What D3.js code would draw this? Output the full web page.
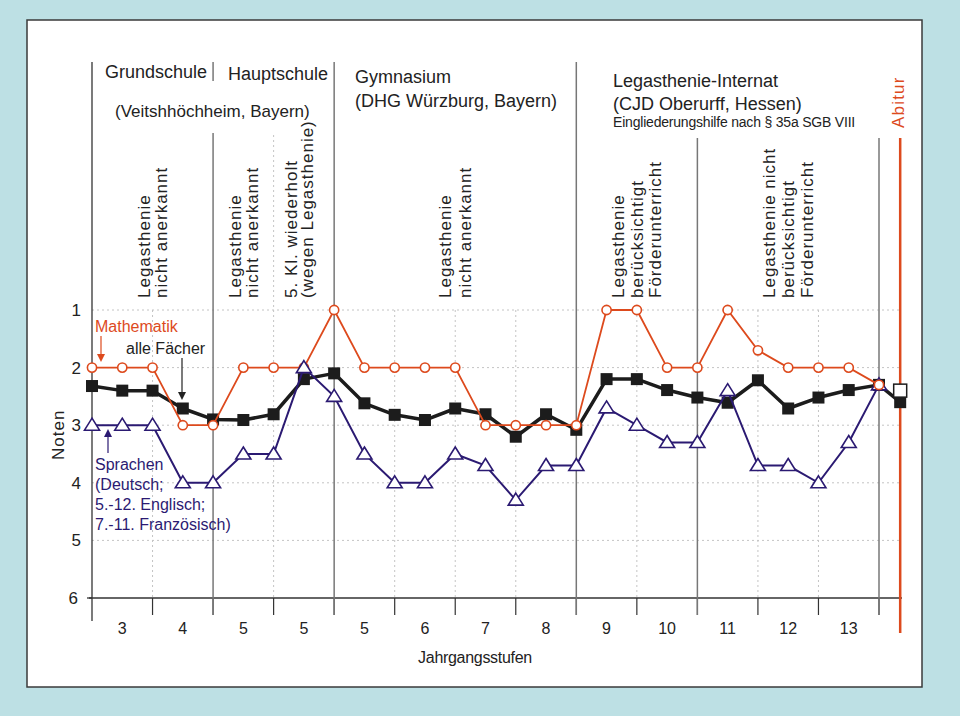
<!DOCTYPE html>
<html lang="de">
<head>
<meta charset="UTF-8">
<title>Noten</title>
<style>
  body { margin: 0; background: #bde0e4; }
  svg { display: block; font-family: "Liberation Sans", Arial, sans-serif; }
</style>
</head>
<body>
<script src="https://d3js.org/d3.v7.min.js"></script>
<script>
// Jahrgangsstufen (Beschriftung in der Mitte jeder Spalte)
var stufen = ["3", "4", "5", "5", "5", "6", "7", "8", "9", "10", "11", "12", "13"];
var notenTicks = [1, 2, 3, 4, 5, 6];

// Noten je Halbjahr (27 Zeugnisse)
var mathe    = [2, 2, 2, 3, 3, 2, 2, 2, 1, 2, 2, 2, 2, 3, 3, 3, 3, 1, 1, 2, 2, 1, 1.7, 2, 2, 2, 2.3];
var alle     = [2.32, 2.4, 2.4, 2.71, 2.9, 2.91, 2.81, 2.2, 2.1, 2.62, 2.82, 2.91, 2.71, 2.81, 3.2, 2.81, 3.08,
                2.2, 2.2, 2.39, 2.52, 2.61, 2.22, 2.71, 2.52, 2.39, 2.3];
var sprachen = [3, 3, 3, 4, 4, 3.5, 3.5, 2, 2.5, 3.5, 4, 4, 3.5, 3.7, 4.3, 3.7, 3.7, 2.7, 3, 3.3, 3.3, 2.4,
                3.7, 3.7, 4, 3.3, 2.3];

// Abitur
var abiturPos = 26.7;
var abiturAlle = 2.6;
var abiturNote = 2.4;

// Schulwechsel (Halbjahresindex)
var wechsel = [4, 8, 16, 20, 26];

var orange = "#dd4a1d", lila = "#2b1a72", schwarz = "#1c1c1c", grau = "#777";

var svg = d3.select("body").append("svg").attr("width", 960).attr("height", 716);

svg.append("rect").attr("x", 0).attr("y", 0).attr("width", 960).attr("height", 716).attr("fill", "#bde0e4");
svg.append("rect").attr("x", 27).attr("y", 20).attr("width", 895).attr("height", 667)
  .attr("fill", "#fff").attr("stroke", "#3a3a3a").attr("stroke-width", 1.5);

var x = d3.scaleLinear().domain([0, 26]).range([92, 879]);
var y = d3.scaleLinear().domain([1, 6]).range([310, 598]);

// Gitter
svg.selectAll(".hgrid").data([1, 2, 3, 4, 5]).enter().append("line")
  .attr("x1", x(0)).attr("x2", x(abiturPos))
  .attr("y1", function(d){ return y(d); }).attr("y2", function(d){ return y(d); })
  .attr("stroke", "#c4c4c4").attr("stroke-dasharray", "2,3");

var tickIdx = d3.range(0, 27, 2);
svg.selectAll(".vgrid").data(tickIdx.filter(function(d){ return d > 0 && wechsel.indexOf(d) < 0; }))
  .enter().append("line")
  .attr("x1", function(d){ return x(d); }).attr("x2", function(d){ return x(d); })
  .attr("y1", function(d){ return d === 6 ? 135 : y(1); }).attr("y2", y(6))
  .attr("stroke", "#c4c4c4").attr("stroke-dasharray", "2,3");

// Achsen
svg.append("line").attr("x1", 89).attr("x2", 902).attr("y1", y(6)).attr("y2", y(6))
  .attr("stroke", "#333").attr("stroke-width", 1.3);
svg.append("line").attr("x1", x(0)).attr("x2", x(0)).attr("y1", 62).attr("y2", 621)
  .attr("stroke", "#333").attr("stroke-width", 1.3);
svg.append("line").attr("x1", 87).attr("x2", x(0)).attr("y1", y(6)).attr("y2", y(6))
  .attr("stroke", "#333").attr("stroke-width", 1.3);
svg.selectAll(".xtick").data(tickIdx.slice(1)).enter().append("line")
  .attr("x1", function(d){ return x(d); }).attr("x2", function(d){ return x(d); })
  .attr("y1", y(6)).attr("y2", 615).attr("stroke", "#333").attr("stroke-width", 1.2);

// Trennlinien
svg.selectAll(".sep").data(wechsel).enter().append("line")
  .attr("x1", function(d){ return x(d); }).attr("x2", function(d){ return x(d); })
  .attr("y1", function(d){ return d >= 20 ? 138 : (d === 4 ? 133 : 62); }).attr("y2", 615)
  .attr("stroke", grau).attr("stroke-width", 1.5);
svg.append("line").attr("x1", x(4)).attr("x2", x(4)).attr("y1", 62).attr("y2", 81)
  .attr("stroke", grau).attr("stroke-width", 1.5);
svg.append("line").attr("x1", x(abiturPos)).attr("x2", x(abiturPos)).attr("y1", 138).attr("y2", 633)
  .attr("stroke", orange).attr("stroke-width", 2.5);

// Achsenbeschriftung
svg.selectAll(".ylab").data(notenTicks).enter().append("text")
  .attr("x", function(d){ return d === 6 ? 78 : 81; }).attr("y", function(d){ return y(d) + 6; })
  .attr("text-anchor", "end").attr("font-size", 17).attr("fill", "#222")
  .text(function(d){ return d; });
svg.selectAll(".xlab").data(stufen).enter().append("text")
  .attr("x", function(d, i){ return x(2 * i + 1); }).attr("y", 634)
  .attr("text-anchor", "middle").attr("font-size", 16).attr("fill", "#222")
  .text(function(d){ return d; });
svg.append("text").attr("x", 475).attr("y", 663).attr("text-anchor", "middle")
  .attr("font-size", 16).attr("letter-spacing", -0.3).attr("fill", "#222").text("Jahrgangsstufen");
svg.append("text").attr("transform", "translate(64,460) rotate(-90)")
  .attr("font-size", 17).attr("letter-spacing", 1).attr("fill", "#222").text("Noten");

// Kopfzeilen
var kopf = [
  ["Grundschule", 105, 78, 18], ["Hauptschule", 228, 80, 18], ["(Veitshhöchheim, Bayern)", 115, 117, 17],
  ["Gymnasium", 355, 83, 18], ["(DHG Würzburg, Bayern)", 355, 107, 18],
  ["Legasthenie-Internat", 613, 87, 18], ["(CJD Oberurff, Hessen)", 613, 110, 18]
];
svg.selectAll(".kopf").data(kopf).enter().append("text")
  .attr("x", function(d){ return d[1]; }).attr("y", function(d){ return d[2]; })
  .attr("font-size", function(d){ return d[3]; }).attr("fill", "#222")
  .text(function(d){ return d[0]; });
svg.append("text").attr("x", 613).attr("y", 127).attr("font-size", 14).attr("letter-spacing", -0.2)
  .attr("fill", "#222").text("Eingliederungshilfe nach § 35a SGB VIII");
svg.append("text").attr("transform", "translate(904,128) rotate(-90)")
  .attr("font-size", 17).attr("letter-spacing", 1.2).attr("fill", orange).text("Abitur");

// senkrechte Spaltentexte
var spalten = [
  [2, ["Legasthenie", "nicht anerkannt"], 17],
  [5, ["Legasthenie", "nicht anerkannt"], 17],
  [6.85, ["5. Kl. wiederholt", "(wegen Legasthenie)"], 16],
  [12, ["Legasthenie", "nicht anerkannt"], 20],
  [18, ["Legasthenie", "berücksichtigt", "Förderunterricht"], 18.5],
  [23, ["Legasthenie nicht", "berücksichtigt", "Förderunterricht"], 19]
];
spalten.forEach(function(s){
  var n = s[1].length;
  s[1].forEach(function(t, k){
    var cx = x(s[0]) + (k - (n - 1) / 2) * s[2];
    svg.append("text").attr("transform", "translate(" + (cx + 6) + ",298) rotate(-90)")
      .attr("font-size", 17).attr("letter-spacing", 1).attr("fill", "#222").text(t);
  });
});

// Linien
var line = d3.line().x(function(d){ return x(d[0]); }).y(function(d){ return y(d[1]); });
var pts = function(arr){ return arr.map(function(v, i){ return [i, v]; }); };

var allePts = pts(alle).concat([[abiturPos, abiturAlle]]);
svg.append("path").attr("d", line(allePts)).attr("fill", "none")
  .attr("stroke", schwarz).attr("stroke-width", 3.5).attr("stroke-linejoin", "round");
svg.selectAll(".sq").data(allePts).enter().append("rect")
  .attr("x", function(d){ return x(d[0]) - 6; }).attr("y", function(d){ return y(d[1]) - 6; })
  .attr("width", 12).attr("height", 12).attr("fill", schwarz);
svg.append("rect").attr("x", x(abiturPos) - 6.5).attr("y", y(abiturNote) - 6.5)
  .attr("width", 13).attr("height", 13).attr("fill", "#fff").attr("stroke", schwarz).attr("stroke-width", 1.5);

svg.append("path").attr("d", line(pts(mathe))).attr("fill", "none")
  .attr("stroke", orange).attr("stroke-width", 1.8);
svg.selectAll(".ci").data(pts(mathe)).enter().append("circle")
  .attr("cx", function(d){ return x(d[0]); }).attr("cy", function(d){ return y(d[1]); })
  .attr("r", 4.6).attr("fill", "#fff").attr("stroke", orange).attr("stroke-width", 1.6);

svg.append("path").attr("d", line(pts(sprachen))).attr("fill", "none")
  .attr("stroke", lila).attr("stroke-width", 2);
svg.selectAll(".tri").data(pts(sprachen)).enter().append("path")
  .attr("transform", function(d){ return "translate(" + x(d[0]) + "," + y(d[1]) + ")"; })
  .attr("d", "M0,-7L7.5,5L-7.5,5Z").attr("fill", "#fff").attr("stroke", lila).attr("stroke-width", 1.6);

// letzter Mathe-Punkt liegt oben
var last = mathe.length - 1;
svg.append("circle").attr("cx", x(last)).attr("cy", y(mathe[last]))
  .attr("r", 4.6).attr("fill", "#fff").attr("stroke", orange).attr("stroke-width", 1.6);

// Beschriftungen der Reihen
function pfeil(x0, y0, y1, col){
  var dir = y1 > y0 ? 1 : -1;
  svg.append("line").attr("x1", x0).attr("x2", x0).attr("y1", y0).attr("y2", y1 - dir * 6)
    .attr("stroke", col).attr("stroke-width", 1.2);
  svg.append("path").attr("d", "M" + (x0 - 4) + "," + (y1 - dir * 8) + "L" + (x0 + 4) + "," + (y1 - dir * 8) + "L" + x0 + "," + y1 + "Z")
    .attr("fill", col);
}
svg.append("text").attr("x", 95).attr("y", 332).attr("font-size", 16).attr("fill", orange).text("Mathematik");
pfeil(101, 336, 362, orange);
svg.append("text").attr("x", 126).attr("y", 354).attr("font-size", 16).attr("fill", "#222").text("alle Fächer");
pfeil(182, 358, 400, "#222");
["Sprachen", "(Deutsch;", "5.-12. Englisch;", "7.-11. Französisch)"].forEach(function(t, k){
  svg.append("text").attr("x", 95).attr("y", 470 + k * 20).attr("font-size", 16).attr("fill", lila).text(t);
});
pfeil(108, 453, 429, lila);
</script>
</body>
</html>
